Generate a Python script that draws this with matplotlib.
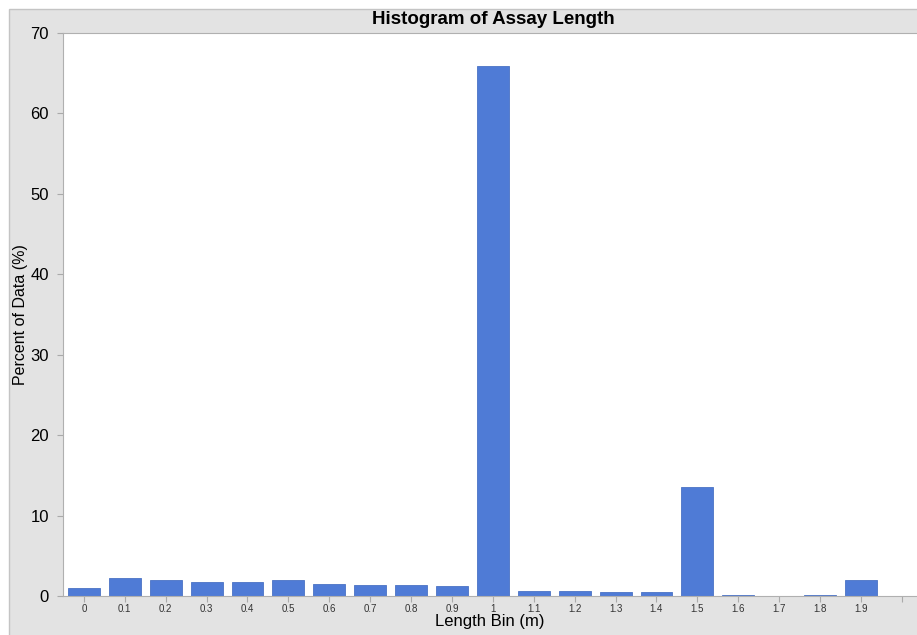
import matplotlib
matplotlib.use("Agg")
import matplotlib.pyplot as plt
from matplotlib.patches import Rectangle

bins = ["0", "0.1", "0.2", "0.3", "0.4", "0.5", "0.6", "0.7", "0.8", "0.9",
        "1", "1.1", "1.2", "1.3", "1.4", "1.5", "1.6", "1.7", "1.8", "1.9", ""]
percent = [1.0, 2.2, 2.0, 1.8, 1.7, 2.0, 1.5, 1.35, 1.35, 1.25,
           65.9, 0.65, 0.65, 0.5, 0.5, 13.6, 0.1, 0.0, 0.1, 2.0, 0.0]

W, H = 917, 635
fig = plt.figure(figsize=(W / 100, H / 100), dpi=100, facecolor="white")
# grey panel behind chart
fig.patches.append(Rectangle((9 / W, -0.01), 1.0, (H - 9) / H + 0.01,
                             transform=fig.transFigure, facecolor="#e3e3e3",
                             edgecolor="#c4c4c4", linewidth=1.0, zorder=-10))

ax = fig.add_axes([63 / W, (H - 596) / H, 1 - 63 / W, (596 - 33) / H])
ax.set_zorder(5)
ax.set_facecolor("white")
x = list(range(len(bins)))
ax.bar(x, percent, width=0.78, color="#4f7bd6", edgecolor="#4a72c4",
       linewidth=0.6, zorder=2)
ax.set_xlim(-0.51, 20.37)
ax.set_ylim(0, 70)
ax.set_xticks(x)
ax.set_xticklabels(bins, fontsize=7, family="Liberation Sans", color="#333333")
ax.set_yticks(range(0, 71, 10))
ax.set_yticklabels([str(v) for v in range(0, 71, 10)], fontsize=12,
                   family="Liberation Sans")
ax.tick_params(axis="x", length=4, color="#aaaaaa", pad=2)
ax.tick_params(axis="y", length=4, color="#aaaaaa", pad=6)
for s in ["left", "bottom", "top"]:
    ax.spines[s].set_color("#b0b0b0")
ax.spines["right"].set_visible(False)

ax.set_xlabel("Length Bin (m)", fontsize=12, family="Liberation Sans", labelpad=0)
ax.set_ylabel("Percent of Data (%)", fontsize=11.5, family="Liberation Sans")
ax.yaxis.set_label_coords(-(63 - 28) / (W - 63), 0.5)
fig.text(493 / W, 1 - 19 / H, "Histogram of Assay Length", ha="center",
         va="center", fontsize=13.5, fontweight="bold", family="Liberation Sans")

fig.savefig("out.png", dpi=100, facecolor=fig.get_facecolor())
